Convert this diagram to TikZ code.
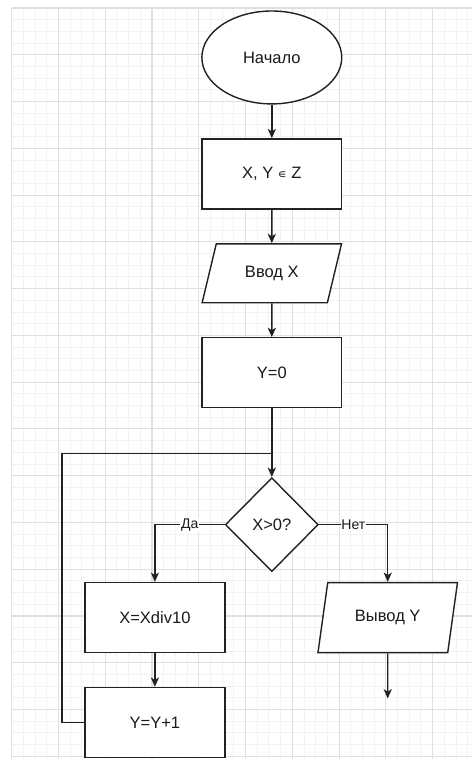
\documentclass[tikz,border=0pt]{standalone}
\usepackage{fontspec}
\setmainfont{Liberation Sans}
\newfontfamily\symfont{DejaVu Sans}
\usepackage{tikz}
\usetikzlibrary{arrows.meta,positioning,shapes.geometric}
\definecolor{FcInk}{HTML}{1A1A1A}
\definecolor{FcLine}{HTML}{222222}
\definecolor{FcGridMinor}{HTML}{F2F2F2}
\definecolor{FcGridMajor}{HTML}{E0E0E0}
\tikzset{
  fclabel/.style={font=\fontsize{9.4}{11}\selectfont, text=FcInk},
  fcsmall/.style={font=\fontsize{8}{10}\selectfont, text=FcInk},
  fcbox/.style={draw=FcLine, line width=0.8pt, fill=white, inner sep=0pt},
  fcproc/.style={fcbox, rectangle, minimum width=2.8cm, minimum height=1.4cm},
  fcterm/.style={fcbox, ellipse, minimum width=2.8cm, minimum height=1.86cm},
  fcio/.style={fcbox, trapezium, trapezium stretches=true, trapezium left angle=65, trapezium right angle=115, minimum width=2.8cm, minimum height=1.18cm},
  fcdecide/.style={fcbox, diamond, minimum width=1.86cm, minimum height=1.88cm},
  fcarrow/.style={-{Stealth[length=5.3pt,width=4.6pt,inset=1.4pt]}, line width=0.8pt, draw=FcLine},
  fcline/.style={line width=0.8pt, draw=FcLine},
  fcedge/.style={fcsmall, fill=white, inner sep=0.5pt},
  gridminor/.style={draw=FcGridMinor, line width=0.5pt},
  gridmajor/.style={draw=FcGridMajor, line width=0.6pt}
}

\begin{document}
\begin{tikzpicture}[x=0.02cm, y=-0.02cm, every node/.style={fclabel}]
\fill[white] (0,0) rectangle (472,760);
% background grid
\foreach \i in {0,...,39} \draw[gridminor] ({11.7+11.7*\i},8) -- ({11.7+11.7*\i},760);
\foreach \j in {0,...,64} \draw[gridminor] (11.7,{8+11.7*\j}) -- (472,{8+11.7*\j});
\foreach \i in {0,...,9} \draw[gridmajor] ({11.7+46.8*\i},8) -- ({11.7+46.8*\i},760);
\foreach \j in {0,...,16} \draw[gridmajor] (11.7,{8+46.8*\j}) -- (472,{8+46.8*\j});
% blocks
\node[fcterm] (start) at (272,57.5) {Начало};
\node[fcproc] (decl) at (272,174) {X, Y {\symfont\fontsize{7}{9}\selectfont ∊} Z};
\node[fcio] (inX) at (272,273.5) {Ввод X};
\node[fcproc] (yzero) at (272,373) {Y=0};
\node[fcdecide] (check) at (272,525) {X>0?};
\node[fcproc] (divX) at (155,618) {X=Xdiv10};
\node[fcproc] (incY) at (155,723) {Y=Y+1};
\node[fcio, minimum height=1.4cm, trapezium left angle=70, trapezium right angle=110] (outY) at (388,618) {Вывод Y};
\coordinate (merge) at (272,454);
\coordinate (loopturn) at (62,454);
\coordinate (outend) at (388,699);
% connectors
\draw[fcarrow] (start) -- (decl);
\draw[fcarrow] (decl) -- (inX);
\draw[fcarrow] (inX) -- (yzero);
\draw[fcarrow] (yzero) -- (check);
\draw[fcline] (incY.west) -| (loopturn) -- (merge);
\draw[fcarrow] (check.west) -| node[pos=0.25, fcedge] {Да} (divX.north);
\draw[fcarrow] (check.east) -| node[pos=0.25, fcedge] {Нет} (outY.north);
\draw[fcarrow] (divX) -- (incY);
\draw[fcarrow] (outY) -- (outend);
\end{tikzpicture}
\end{document}
